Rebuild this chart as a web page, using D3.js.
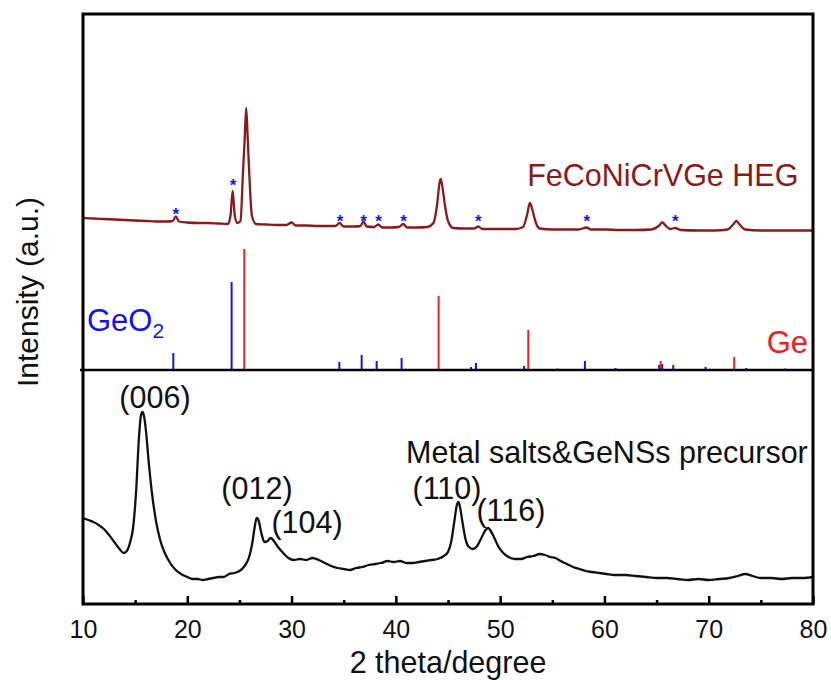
<!DOCTYPE html>
<html>
<head>
<meta charset="utf-8">
<script src="https://cdn.jsdelivr.net/npm/d3@7"></script>
<style>
  html, body { margin: 0; padding: 0; background: #fff; }
  svg { display: block; font-family: "Liberation Sans", Arial, sans-serif; }
</style>
</head>
<body>
<svg id="chart" width="831" height="680"></svg>
<script>
// ---- x axis ----
const majorTicks = [10, 20, 30, 40, 50, 60, 70, 80];
const minorTicks = [15, 25, 35, 45, 55, 65, 75];

// ---- precursor pattern (bottom trace) ----
const precursorTheta = [10.0,10.5,11.0,11.5,12.0,12.5,13.0,13.5,13.9,14.2,14.5,14.8,15.1,15.35,15.55,15.7,15.85,16.05,16.3,16.6,
  17.0,17.4,17.8,18.3,18.8,19.4,20.0,20.5,21.0,21.5,22.0,22.5,23.0,23.5,24.0,24.5,25.0,25.5,25.9,26.2,
  26.45,26.65,26.85,27.1,27.4,27.7,28.0,28.3,28.7,29.2,29.7,30.2,30.8,31.4,32.0,32.6,33.2,33.8,34.4,35.0,
  35.6,36.2,36.8,37.4,38.0,38.6,39.2,39.8,40.4,41.0,41.6,42.2,42.8,43.4,44.0,44.6,45.0,45.3,45.6,45.85,
  46.0,46.15,46.4,46.7,47.0,47.4,47.8,48.2,48.6,48.85,49.1,49.4,49.8,50.3,50.8,51.4,52.0,52.6,53.2,53.8,
  54.3,54.8,55.3,55.8,56.4,57.0,57.6,58.2,58.8,59.5,60.2,61.0,62.0,63.0,64.0,65.0,66.0,67.0,68.0,69.0,
  70.0,71.0,72.0,72.8,73.5,74.2,75.0,76.0,77.0,78.0,79.0,80.0];
const precursorIntensity = [86,84,82,79,75,69,62,55,51,53,61,76,114,164,188,192,188,172,142,112,
  83,64,52,42,35,30,27,25,25,24,25,26,27,27,30,31,33,38,46,59,
  76,86,83,71,62,63,66,63,57,51,46,44,45,44,46,44,41,38,36,35,
  34,36,37,39,40,41,43,42,43,41,41,42,43,44,45,48,52,62,82,99,
  102,97,81,64,57,55,58,66,74,76,73,67,58,51,47,45,45,47,48,50,
  49,47,46,43,40,37,35,33,32,31,30,29,29,28,27,26,26,25,24,25,
  24,25,26,28,30,28,26,26,25,26,26,27];

// ---- FeCoNiCrVGe HEG pattern (top trace, stacked above the reference sticks) ----
const hegOffset = 360;
const hegTheta = [10.1,11.0,12.0,13.0,14.0,15.0,16.0,17.0,18.0,18.6,18.9,19.2,20.0,21.0,22.0,23.0,23.9,24.15,24.35,24.55,
  24.8,25.1,25.35,25.5,25.65,25.8,25.95,26.2,26.6,27.5,28.5,29.5,30.0,30.4,31.5,32.5,33.5,34.2,34.6,35.0,
  36.0,36.6,36.9,37.2,37.9,38.3,38.7,39.5,40.3,40.7,41.1,42.0,43.0,43.6,43.95,44.2,44.3,44.45,44.7,45.0,
  45.5,46.5,47.5,47.9,48.3,49.5,50.5,51.5,52.2,52.6,52.85,53.1,53.4,53.8,55.0,56.0,57.5,58.3,58.7,60.0,
  61.5,63.0,64.5,65.2,65.55,65.9,66.3,66.8,67.3,69.0,70.5,71.8,72.3,72.65,73.0,73.5,75.0,77.0,79.0,80.0];
const hegIntensity = [26,25.5,25,24.5,24,23.5,23,22.5,22.5,23,27.5,22.5,21.5,21,21,20.5,20,29,53,29,
  21,23,74,104,136,104,69,28,20,19.5,19,19,21.5,18.5,18.5,18,18,18,21,17.5,
  17.5,18,22.5,17.5,17,19.5,16.5,16.5,17,20,16.5,16.5,17,21,39,62,65,58,39,23,
  16,15.5,15.5,17.5,15,15,15,15,17,30,41,34,22,15.5,14.5,14.5,14.5,16.5,14.5,14.5,
  14,14,14.5,18,21.5,18,15,16,14,13.5,13.5,14.5,19,23,19,14.5,13.5,13.5,13.5,13.5];

// ---- reference patterns (stick lines) ----
const refBase = 234;
const geo2Theta = [18.66,24.25,34.58,36.72,38.16,40.55,47.2,47.68,52.3,55.5,58.13,61.07,65.25,65.54,66.6,69.7,73.6,77.3];
const geo2Intensity = [17,88,8,15,9,12,3,7,4,1.5,9,2,5,6,5,3,2,1.5];
const geTheta = [25.47,44.1,52.7,65.39,72.45];
const geIntensity = [121,74,40,9,13];

// ---- GeO2 peaks marked in the HEG pattern ----
const starTheta = [18.9,24.4,34.65,36.9,38.35,40.75,47.9,58.3,66.8];
const starIntensity = [33,62,26,26,26,26,26,26,26];

// ---- precursor reflections ----
const hklLabels = ["(006)","(012)","(104)","(110)","(116)"];
const hklTheta = [16.9,26.68,31.48,44.9,51.03];
const hklIntensity = [207,116,82,116,94];

const svg = d3.select("#chart");
const plotL = 83, plotR = 813, plotT = 14, plotB = 604;
const labelSize = 30.5;

const x = d3.scaleLinear().domain([10, 80]).range([plotL, plotR]);
const y = d3.scaleLinear().domain([0, 590]).range([plotB, plotT]);

const cTrace = "#8b1a1a", cBlue = "#1414ea", cRed = "#ee2020";

// traces
const line = d3.line().x(d => x(d[0])).y(d => y(d[1])).curve(d3.curveMonotoneX);

svg.append("path")
  .datum(precursorTheta.map((t, i) => [t, precursorIntensity[i]]))
  .attr("d", line).attr("fill", "none").attr("stroke", "#111")
  .attr("stroke-width", 2.3).attr("stroke-linejoin", "round");

svg.append("path")
  .datum(hegTheta.map((t, i) => [t, hegIntensity[i] + hegOffset]))
  .attr("d", line).attr("fill", "none").attr("stroke", cTrace)
  .attr("stroke-width", 2.3).attr("stroke-linejoin", "round");

// reference sticks
function sticks(thetas, vals, color) {
  svg.append("g").selectAll("line")
    .data(thetas.map((t, i) => [t, vals[i]]))
    .join("line")
    .attr("x1", d => x(d[0])).attr("x2", d => x(d[0]))
    .attr("y1", y(refBase)).attr("y2", d => y(refBase + d[1]))
    .attr("stroke", color).attr("stroke-width", 2);
}
sticks(geo2Theta, geo2Intensity, cBlue);
sticks(geTheta, geIntensity, cRed);

// stars
svg.append("g").selectAll("text")
  .data(starTheta.map((t, i) => [t, starIntensity[i] + hegOffset]))
  .join("text")
  .attr("x", d => x(d[0])).attr("y", d => y(d[1]))
  .attr("dy", "0.55em")
  .attr("text-anchor", "middle")
  .attr("font-size", 17).attr("font-weight", "bold")
  .attr("fill", cBlue)
  .text("*");

// hkl labels
svg.append("g").selectAll("text")
  .data(hklLabels.map((s, i) => [hklTheta[i], hklIntensity[i], s]))
  .join("text")
  .attr("x", d => x(d[0])).attr("y", d => y(d[1]))
  .attr("dy", "0.35em").attr("text-anchor", "middle")
  .attr("font-size", labelSize).attr("fill", "#111")
  .text(d => d[2]);

// sample labels
svg.append("text")
  .attr("x", x(79.5)).attr("y", y(152)).attr("dy", "0.35em")
  .attr("text-anchor", "end").attr("font-size", labelSize).attr("fill", "#111")
  .text("Metal salts&GeNSs precursor");

svg.append("text")
  .attr("x", x(78.6)).attr("y", y(hegOffset + 69)).attr("dy", "0.35em")
  .attr("text-anchor", "end").attr("font-size", labelSize).attr("fill", cTrace)
  .text("FeCoNiCrVGe HEG");

const geo2Label = svg.append("text")
  .attr("x", 87).attr("y", y(refBase + 39))
  .attr("font-size", 31).attr("fill", cBlue);
geo2Label.append("tspan").text("GeO");
geo2Label.append("tspan").attr("font-size", 21).attr("dy", 7).text("2");

svg.append("text")
  .attr("x", 808).attr("y", y(refBase + 17))
  .attr("text-anchor", "end").attr("font-size", 31).attr("fill", cRed)
  .text("Ge");

// separator between reference sticks and precursor trace
svg.append("line")
  .attr("x1", plotL - 3).attr("x2", plotR)
  .attr("y1", y(refBase)).attr("y2", y(refBase))
  .attr("stroke", "#000").attr("stroke-width", 2.5);

// x axis (inward ticks)
const gx = svg.append("g").attr("transform", `translate(0,${plotB})`)
  .call(d3.axisBottom(x).tickValues(majorTicks).tickSizeInner(-8).tickSizeOuter(0).tickPadding(16));
gx.select(".domain").remove();
gx.selectAll(".tick line").attr("stroke", "#000").attr("stroke-width", 2.5);
gx.selectAll(".tick text").attr("font-size", 25).attr("fill", "#111")
  .attr("font-family", "'Liberation Sans', Arial, sans-serif");

const gm = svg.append("g").attr("transform", `translate(0,${plotB})`)
  .call(d3.axisBottom(x).tickValues(minorTicks).tickSizeInner(-4).tickSizeOuter(0).tickFormat(""));
gm.select(".domain").remove();
gm.selectAll(".tick line").attr("stroke", "#000").attr("stroke-width", 2.5);

// frame
svg.append("rect")
  .attr("x", plotL).attr("y", plotT).attr("width", plotR - plotL).attr("height", plotB - plotT)
  .attr("fill", "none").attr("stroke", "#000").attr("stroke-width", 3);

// axis titles
svg.append("text")
  .attr("x", (plotL + plotR) / 2).attr("y", 673)
  .attr("text-anchor", "middle").attr("font-size", labelSize).attr("fill", "#111")
  .text("2 theta/degree");

svg.append("text")
  .attr("transform", "translate(38,292) rotate(-90)")
  .attr("text-anchor", "middle").attr("font-size", 30).attr("fill", "#111")
  .text("Intensity (a.u.)");
</script>
</body>
</html>
